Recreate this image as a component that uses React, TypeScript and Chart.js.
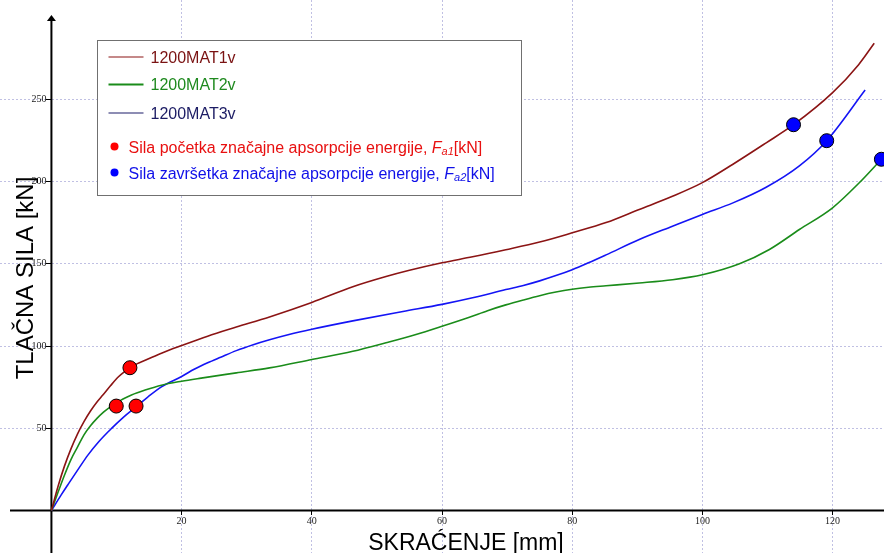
import React, { useEffect, useRef } from "react";
import { Chart, registerables } from "chart.js";

Chart.register(...registerables);

// ---- data (x = skraćenje [mm], y = tlačna sila [kN]) ----
const mat1X = [0, 1, 2, 3, 4, 5, 6, 7, 7.9, 9.1, 10.3, 11.2, 12.06, 13.2, 14.4, 17, 20, 24, 28.4, 33.5, 40, 46.3, 51.4, 55, 60, 64.7, 69.8, 75, 80, 85.2, 90.3, 95.4, 100, 104.7, 109.8, 114, 120, 124, 126.4];
const mat1Y = [0, 14.5, 27, 37.5, 46.5, 54, 60.5, 66, 70.2, 76, 81.3, 84.3, 86.8, 89.3, 91.3, 95.8, 100.3, 106, 111.5, 117.7, 126.5, 136, 142.2, 146, 150.6, 154.2, 158.5, 163.2, 168.8, 175, 183, 191, 199.3, 210.5, 223.5, 234.5, 254, 271, 284];

const mat2X = [0, 1, 2, 3, 4, 5, 6, 7, 8, 9, 10, 11, 12.3, 14.4, 16.9, 20, 23, 28.4, 33.5, 40, 46.3, 51.4, 56, 60, 64.2, 67, 69.8, 72.5, 75, 77.5, 80, 82.5, 85.2, 90.3, 95.4, 100, 105.7, 110.3, 114.9, 120, 124.1, 127.5];
const mat2Y = [0, 11, 21.5, 31, 38.5, 46, 51.5, 56, 59.8, 62.9, 65.5, 67.8, 70.2, 73.2, 76.2, 78.6, 80.5, 83.7, 86.7, 91.8, 96.8, 102, 107, 112, 117.5, 121.5, 125, 128, 130.6, 132.8, 134.5, 135.7, 136.6, 138.3, 140.3, 143.3, 150, 158.7, 170.8, 184, 199.2, 213.5];

const mat3X = [0, 1.5, 2.5, 4.1, 5.6, 7.3, 9.2, 11, 13, 14.8, 16.9, 20, 22, 24, 26, 28.4, 31, 33.5, 36.5, 40, 46.3, 54, 60, 64.7, 69.8, 72.5, 75, 77.5, 80, 82.5, 85.2, 90.3, 95.4, 100, 104.7, 109.8, 114.9, 119.1, 125];
const mat3Y = [0, 9.5, 15.5, 25, 33.7, 42, 49.8, 56.5, 63, 69, 75.2, 81.5, 86, 89.8, 93.2, 97.2, 100.8, 103.8, 107, 110.2, 115.3, 121, 125.3, 129.3, 134.3, 136.8, 139.6, 142.8, 146.4, 150.6, 155.4, 164.7, 172.8, 180, 187, 196.5, 209.5, 224.8, 255.6];

const fa1X = [12.06, 9.96, 13.0];
const fa1Y = [86.8, 63.5, 63.5];
const fa2X = [114.0, 119.1, 127.5];
const fa2Y = [234.5, 224.8, 213.5];

const xTickValues = [20, 40, 60, 80, 100, 120];
const yTickValues = [50, 100, 150, 200, 250];

const seriesNames = ["1200MAT1v", "1200MAT2v", "1200MAT3v"];
const xTitle = "SKRAĆENJE [mm]";
const yTitle = "TLAČNA SILA [kN]";

const X_MIN = -7.9;
const X_MAX = 127.9;
const Y_MIN = -25.8;
const Y_MAX = 310.3;

const zip = (xs: number[], ys: number[]) => xs.map((x, i) => ({ x, y: ys[i] }));

const SANS = '"Liberation Sans", Arial, sans-serif';

const decorPlugin = {
  id: "decor",
  afterLayout(chart: any) {
    // let the plot area fill the whole canvas, like the reference
    const W = chart.width;
    const H = chart.height;
    const ca = chart.chartArea;
    ca.left = 0; ca.top = 0; ca.right = W; ca.bottom = H; ca.width = W; ca.height = H;
    const xs = chart.scales.x;
    xs.left = 0; xs.right = W; xs.width = W;
    xs.configure();
    const ys = chart.scales.y;
    ys.top = 0; ys.bottom = H; ys.height = H;
    ys.configure();
  },
  beforeDatasetsDraw(chart: any) {
    const { ctx, scales } = chart;
    const x0 = scales.x.getPixelForValue(0);
    const y0 = scales.y.getPixelForValue(0);
    ctx.save();
    ctx.strokeStyle = "#000";
    ctx.lineWidth = 2;
    ctx.beginPath();
    ctx.moveTo(10, y0);
    ctx.lineTo(chart.width, y0);
    ctx.stroke();
    const top = 15;
    ctx.beginPath();
    ctx.moveTo(x0, chart.height);
    ctx.lineTo(x0, top + 4);
    ctx.stroke();
    ctx.fillStyle = "#000";
    ctx.beginPath();
    ctx.moveTo(x0, top);
    ctx.lineTo(x0 - 4.5, top + 6);
    ctx.lineTo(x0 + 4.5, top + 6);
    ctx.closePath();
    ctx.fill();
    ctx.restore();
  },
  afterDraw(chart: any) {
    const { ctx } = chart;
    ctx.save();
    ctx.fillStyle = "#000";
    ctx.font = `23px ${SANS}`;
    ctx.textAlign = "center";
    ctx.textBaseline = "alphabetic";
    ctx.fillText(xTitle, 466, 550);
    ctx.translate(33, 278);
    ctx.rotate(-Math.PI / 2);
    ctx.font = `24px ${SANS}`;
    ctx.fillText(yTitle, 0, 0);
    ctx.restore();
  },
};

const gridColor = "rgba(165,165,215,0.7)";

export default function App() {
  const ref = useRef<HTMLCanvasElement | null>(null);
  useEffect(() => {
    if (!ref.current) return;
    const lineDs = (label: string, data: any[], color: string) => ({
      label,
      data,
      borderColor: color,
      backgroundColor: color,
      borderWidth: 1.6,
      pointRadius: 0,
      cubicInterpolationMode: "monotone" as const,
      fill: false,
      order: 2,
    });
    const dotDs = (label: string, data: any[], color: string) => ({
      label,
      data,
      showLine: false,
      pointRadius: 7,
      pointBorderWidth: 1,
      pointBorderColor: "#000",
      pointBackgroundColor: color,
      borderColor: color,
      backgroundColor: color,
      clip: false as any,
      order: 1,
    });
    const chart = new Chart(ref.current, {
      type: "line",
      data: {
        datasets: [
          dotDs("Fa1", zip(fa1X, fa1Y), "#ff0000"),
          dotDs("Fa2", zip(fa2X, fa2Y), "#0000ff"),
          lineDs(seriesNames[0], zip(mat1X, mat1Y), "#8b1414"),
          lineDs(seriesNames[1], zip(mat2X, mat2Y), "#1a8c1a"),
          lineDs(seriesNames[2], zip(mat3X, mat3Y), "#1414f5"),
        ],
      },
      options: {
        animation: false,
        responsive: false,
        maintainAspectRatio: false,
        layout: { padding: 0 },
        plugins: { legend: { display: false }, tooltip: { enabled: false } },
        scales: {
          x: {
            type: "linear",
            min: X_MIN,
            max: X_MAX,
            position: { y: 0 } as any,
            afterBuildTicks: (s: any) => {
              s.ticks = xTickValues.map((v) => ({ value: v }));
            },
            grid: { color: gridColor, lineWidth: 1, drawTicks: true, tickLength: 4, tickColor: "#000", tickWidth: 1 },
            border: { display: false, dash: [2, 2] },
            ticks: { autoSkip: false, maxRotation: 0, padding: 1, color: "#222", font: { family: '"Liberation Serif", serif', size: 10 } },
          },
          y: {
            type: "linear",
            min: Y_MIN,
            max: Y_MAX,
            position: { x: 0 } as any,
            afterBuildTicks: (s: any) => {
              s.ticks = yTickValues.map((v) => ({ value: v }));
            },
            grid: { color: gridColor, lineWidth: 1, drawTicks: true, tickLength: 5, tickColor: "#000", tickWidth: 1 },
            border: { display: false, dash: [2, 2] },
            ticks: {
              autoSkip: false,
              padding: 2,
              color: "#222",
              font: { family: '"Liberation Serif", serif', size: 10 },
              callback: (v: any) => `${v}  `,
            },
          },
        },
      },
      plugins: [decorPlugin],
    });
    return () => chart.destroy();
  }, []);

  const row = (top: number): React.CSSProperties => ({
    position: "absolute",
    left: 0,
    top: top - 10,
    height: 20,
    lineHeight: "20px",
    whiteSpace: "nowrap",
  });

  return (
    <div style={{ position: "fixed", left: 0, top: 0, width: 884, height: 553, background: "#fff", overflow: "hidden", fontFamily: SANS }}>
      <canvas ref={ref} width={884} height={553} style={{ display: "block" }} />
      <div
        style={{
          position: "absolute",
          left: 97,
          top: 40,
          width: 423,
          height: 154,
          border: "1.5px solid #707070",
          background: "#fff",
          fontSize: 16,
        }}
      >
        <div style={{ position: "absolute", left: 0, top: 0, width: "100%", height: "100%", transform: "translate(-98.5px,-41.5px)" }}>
          <div style={{ position: "absolute", left: 109, top: 56.5, width: 35, height: 1, background: "#8b1414" }} />
          <div style={{ ...row(57.5), left: 151, color: "#7a1212" }}>{seriesNames[0]}</div>
          <div style={{ position: "absolute", left: 109, top: 84, width: 35, height: 2, background: "#1a8c1a" }} />
          <div style={{ ...row(85), left: 151, color: "#1f8a1f" }}>{seriesNames[1]}</div>
          <div style={{ position: "absolute", left: 109, top: 112.5, width: 35, height: 1, background: "#1c1c6a" }} />
          <div style={{ ...row(113.5), left: 151, color: "#1c1c64" }}>{seriesNames[2]}</div>
          <div style={{ position: "absolute", left: 111, top: 143, width: 8, height: 8, borderRadius: 4, background: "#ff0000" }} />
          <div style={{ ...row(147.5), left: 129, color: "#e81010" }}>
            Sila početka značajne apsorpcije energije, <i>F</i>
            <sub style={{ fontSize: 11, fontStyle: "italic", verticalAlign: "-2px" }}>a1</sub>[kN]
          </div>
          <div style={{ position: "absolute", left: 111, top: 169, width: 8, height: 8, borderRadius: 4, background: "#0000ff" }} />
          <div style={{ ...row(173.5), left: 129, color: "#1010e8" }}>
            Sila završetka značajne apsorpcije energije, <i>F</i>
            <sub style={{ fontSize: 11, fontStyle: "italic", verticalAlign: "-2px" }}>a2</sub>[kN]
          </div>
        </div>
      </div>
    </div>
  );
}
